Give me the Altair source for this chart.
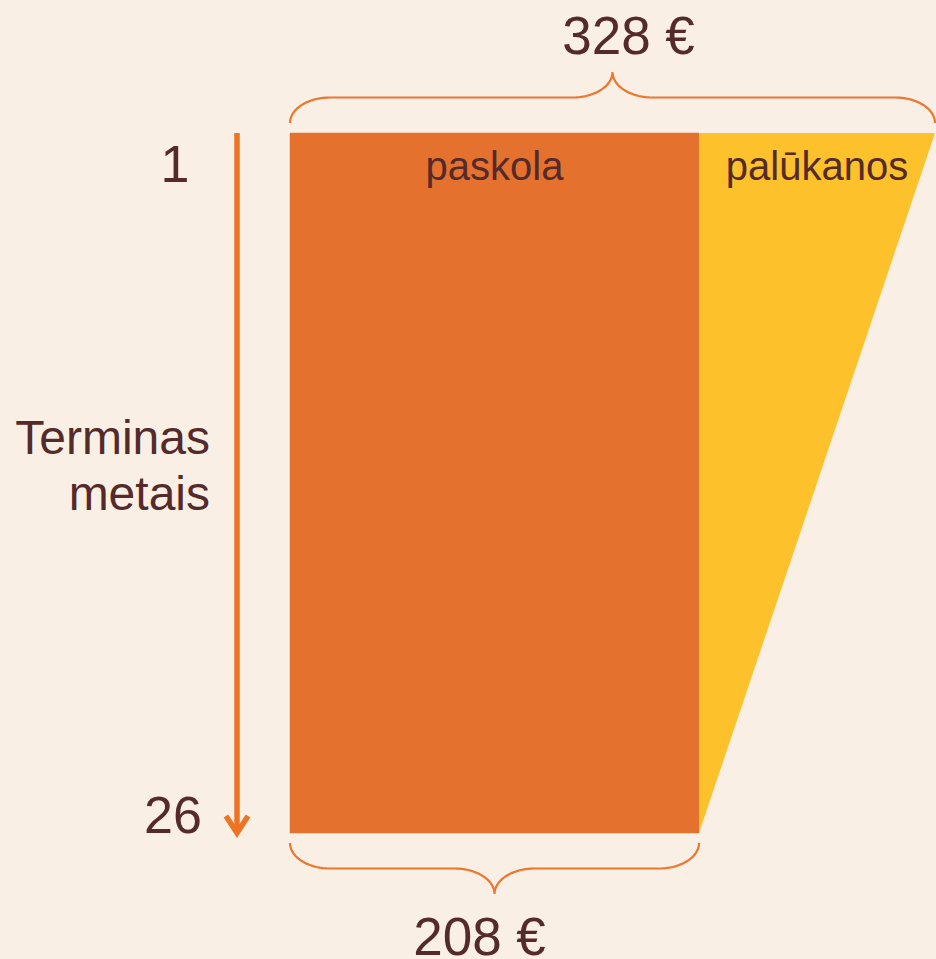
import math
import altair as alt
import pandas as pd

# ---- data ----
years = [1, 26]
loan = [208, 208]
total = [328, 208]
part_labels = ["paskola", "palūkanos"]
top_label = "328 €"
bottom_label = "208 €"
term_labels = ["1", "26"]
axis_title = ["Terminas", "metais"]

# ---- style ----
BG = "#F9EFE5"
ORANGE = "#E5712E"
YELLOW = "#FCC12B"
TEXT = "#552A2A"
LINE = "#EC772F"
ARROW = "#EE7424"
FONT = "Liberation Sans"

X0, X1 = 290, 935
Y0, Y1 = 133, 833
xs = alt.Scale(domain=[0, total[0]], range=[X0, X1])
ys = alt.Scale(domain=[years[0], years[-1]], range=[Y0, Y1])
K = (X1 - X0) / total[0]
KY = (Y1 - Y0) / (years[-1] - years[0])


def px_to_eur(px):
    return (px - X0) / K


def py_to_year(py):
    return years[0] + (py - Y0) / KY


def brace(name, eur_left, eur_right, y_end, s, rx=40, ry=25.5, n=18):
    xl = X0 + eur_left * K
    xr = X0 + eur_right * K
    xm = (xl + xr) / 2
    y_flat = y_end + s * ry
    left = []
    for i in range(n + 1):
        t = math.pi / 2 * i / n
        left.append((xl + rx - rx * math.cos(t), y_end + s * ry * math.sin(t)))
    for i in range(n + 1):
        t = math.pi / 2 * i / n
        left.append((xm - rx + rx * math.sin(t), y_flat + s * ry * (1 - math.cos(t))))
    right = [(2 * xm - x, y) for (x, y) in reversed(left)]
    pts = left + right[1:]
    return pd.DataFrame({
        "brace": name,
        "i": list(range(len(pts))),
        "eur": [px_to_eur(p[0]) for p in pts],
        "year": [py_to_year(p[1]) for p in pts],
    })


df = pd.DataFrame({"year": years, "zero": [0] * len(years), "loan": loan, "total": total})
base = alt.Chart(df)

loan_area = base.mark_area(orient="horizontal", color=ORANGE, stroke=ORANGE, strokeWidth=0.5).encode(
    y=alt.Y("year:Q", scale=ys, axis=None),
    x=alt.X("zero:Q", scale=xs, axis=None),
    x2="loan:Q",
)
interest_area = base.mark_area(orient="horizontal", color=YELLOW).encode(
    y=alt.Y("year:Q", scale=ys, axis=None),
    x=alt.X("loan:Q", scale=xs, axis=None),
    x2="total:Q",
)

braces_df = pd.concat([
    brace("top", 0, total[0], Y0 - 10, -1),
    brace("bottom", 0, loan[-1], Y1 + 10, 1),
])
braces = alt.Chart(braces_df).mark_line(color=LINE, strokeWidth=2.2).encode(
    x=alt.X("eur:Q", scale=xs, axis=None),
    y=alt.Y("year:Q", scale=ys, axis=None),
    detail="brace:N",
    order="i:Q",
)

parts_df = pd.DataFrame({
    "text": part_labels,
    "x": [loan[0] / 2, (loan[0] + total[0]) / 2],
    "year": [years[0]] * 2,
})
parts = alt.Chart(parts_df).mark_text(
    font=FONT, fontSize=40, color=TEXT, align="center", baseline="alphabetic", dy=47
).encode(
    x=alt.X("x:Q", scale=xs, axis=None),
    y=alt.Y("year:Q", scale=ys, axis=None),
    text="text:N",
)

top_txt = alt.Chart(pd.DataFrame({"x": [total[0] / 2], "year": [years[0]], "t": [top_label]})).mark_text(
    font=FONT, fontSize=53, color=TEXT, align="center", baseline="alphabetic", dy=-79, dx=16
).encode(
    x=alt.X("x:Q", scale=xs, axis=None),
    y=alt.Y("year:Q", scale=ys, axis=None),
    text="t:N",
)
bottom_txt = alt.Chart(pd.DataFrame({"x": [loan[-1] / 2], "year": [years[-1]], "t": [bottom_label]})).mark_text(
    font=FONT, fontSize=53, color=TEXT, align="center", baseline="alphabetic", dy=122, dx=-15
).encode(
    x=alt.X("x:Q", scale=xs, axis=None),
    y=alt.Y("year:Q", scale=ys, axis=None),
    text="t:N",
)

term_df = pd.DataFrame({"t": term_labels, "year": years})
term1 = alt.Chart(term_df.iloc[[0]]).mark_text(
    font=FONT, fontSize=52, color=TEXT, align="center", baseline="alphabetic", dy=49
).encode(x=alt.value(175), y=alt.Y("year:Q", scale=ys, axis=None), text="t:N")
term2 = alt.Chart(term_df.iloc[[1]]).mark_text(
    font=FONT, fontSize=52, color=TEXT, align="center", baseline="alphabetic", dy=0
).encode(x=alt.value(173), y=alt.Y("year:Q", scale=ys, axis=None), text="t:N")

title_df = pd.DataFrame({"year": [(years[0] + years[-1]) / 2]})
title_txt = alt.Chart(title_df).mark_text(
    text=axis_title, font=FONT, fontSize=48, color=TEXT, align="right",
    baseline="alphabetic", lineHeight=56, dy=-29
).encode(x=alt.value(210), y=alt.Y("year:Q", scale=ys, axis=None))

arrow_df = pd.DataFrame({"a": [years[0]], "b": [years[-1]]})
shaft = alt.Chart(arrow_df).mark_rule(color=ARROW, strokeWidth=5.5).encode(
    x=alt.value(237),
    y=alt.Y("a:Q", scale=ys, axis=None),
    y2="b:Q",
)
head = alt.Chart(arrow_df).mark_point(
    shape="M-0.65,-1L0,0L0.65,-1", size=1156, filled=False, stroke=ARROW,
    strokeWidth=5.5, opacity=1, strokeJoin="miter", strokeCap="butt"
).encode(
    x=alt.value(237),
    y=alt.Y("b:Q", scale=ys, axis=None),
)

chart = alt.layer(
    loan_area, interest_area, braces, parts, top_txt, bottom_txt,
    term1, term2, title_txt, shaft, head
).properties(
    width=936, height=959, padding=0, autosize="none", background=BG
).configure_view(strokeWidth=0)

chart.save("out.html", embed_options={"renderer": "svg", "actions": False})
